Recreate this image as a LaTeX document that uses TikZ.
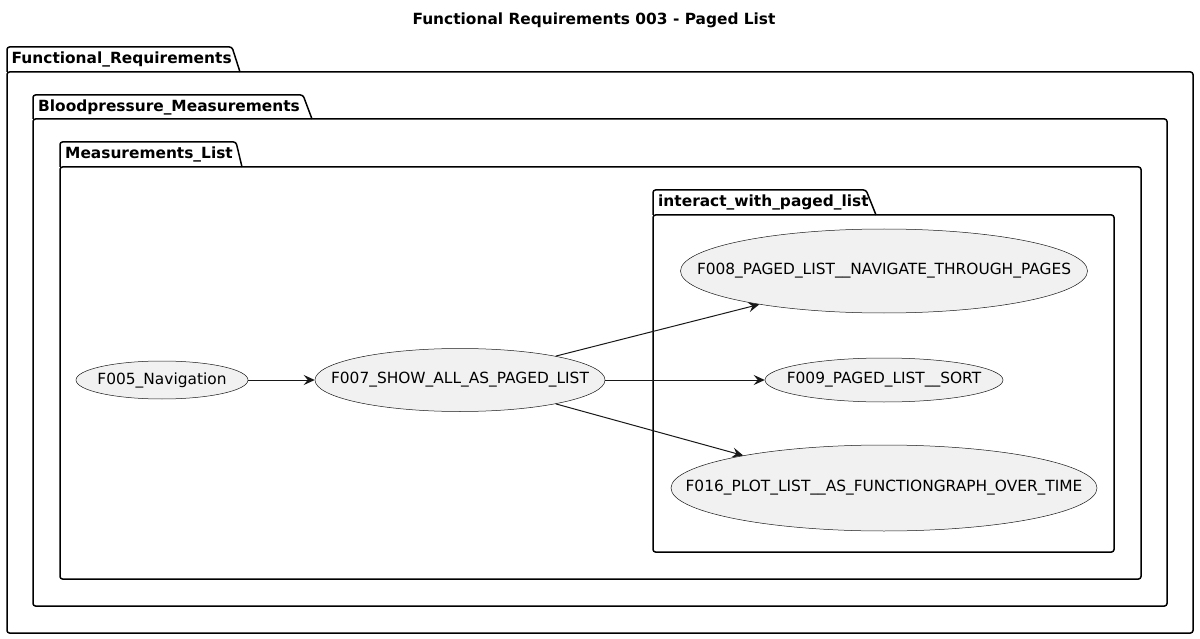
\documentclass[tikz,border=0pt]{standalone}
\usepackage{fontspec}
\setmainfont{DejaVu Sans}
\usetikzlibrary{arrows.meta,shapes.geometric}
\definecolor{ucfill}{HTML}{F1F1F1}
\definecolor{ucline}{HTML}{181818}
\tikzset{
  uc/.style={ellipse, draw=ucline, line width=0.5pt, fill=ucfill, inner sep=0pt,
    font=\fontsize{15.4}{17}\selectfont},
  pkgline/.style={draw=black, line width=1.5pt, rounded corners=2.5pt},
  pkgtitle/.style={anchor=west, inner sep=0pt, font=\fontsize{15.4}{17}\selectfont\bfseries},
  flow/.style={draw=ucline, line width=1pt, -{Stealth[length=11pt,width=10pt,inset=4pt]}},
}
\newcommand{\pkgbox}[7]{% x, tabtop, tabbot, tabR, slantEnd, right, bottom
  \draw[pkgline] (#1,#3) -- (#1,#2) -- (#4,#2) -- (#5,#3);
  \draw[pkgline] (#1,#3) rectangle (#6,#7);
}
\newcommand{\uctext}[1]{\makebox[0pt]{#1}}
\begin{document}
\begin{tikzpicture}[x=1pt,y=-1pt]
\useasboundingbox (0,0) rectangle (1200,639);
\node[font=\fontsize{15.4}{17}\selectfont\bfseries, inner sep=0pt] (title) at (594,20) {Functional Requirements 003 - Paged List};

\pkgbox{7}{47}{72}{232}{240}{1193}{633}
\node[pkgtitle] (pFR) at (11.5,59.5) {Functional\_Requirements};
\pkgbox{33}{95}{119}{303}{312}{1167}{606}
\node[pkgtitle] (pBM) at (38,107) {Bloodpressure\_Measurements};
\pkgbox{60}{142}{167}{236}{242}{1141}{579}
\node[pkgtitle] (pML) at (65,154.5) {Measurements\_List};
\pkgbox{653}{190}{215}{866}{876}{1114}{552}
\node[pkgtitle] (pIP) at (658,202.5) {interact\_with\_paged\_list};

\node[uc, minimum width=172pt, minimum height=38pt] (f5) at (162,380) {\uctext{F005\_Navigation}};
\node[uc, minimum width=290pt, minimum height=63pt] (f7) at (460,380) {\uctext{F007\_SHOW\_ALL\_AS\_PAGED\_LIST}};
\node[uc, minimum width=407pt, minimum height=84pt] (f8) at (884,271) {\uctext{F008\_PAGED\_LIST\_\_NAVIGATE\_THROUGH\_PAGES}};
\node[uc, minimum width=238pt, minimum height=44pt] (f9) at (884,380) {\uctext{F009\_PAGED\_LIST\_\_SORT}};
\node[uc, minimum width=426pt, minimum height=86pt] (f16) at (884,488) {\uctext{F016\_PLOT\_LIST\_\_AS\_FUNCTIONGRAPH\_OVER\_TIME}};

\draw[flow] (f5.east) -- (f7.west);
\draw[flow] (f7.14) -- (f8.195);
\draw[flow] (f7.east) -- (f9.west);
\draw[flow] (f7.346) -- (f16.167);
\end{tikzpicture}
\end{document}
